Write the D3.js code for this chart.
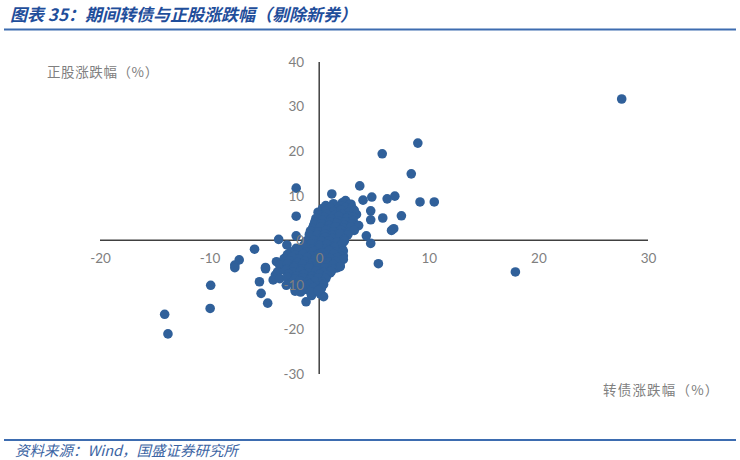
<!DOCTYPE html>
<html>
<head>
<meta charset="utf-8">
<script src="https://cdn.jsdelivr.net/npm/d3@7"></script>
<style>
  body { margin: 0; background: #fff; }
  svg { display: block; }
</style>
</head>
<body>
<div id="chart"></div>
<script>
// tick labels
var xTicks = [-20, -10, 0, 10, 20, 30];
var yTicks = [-30, -20, -10, 0, 10, 20, 30, 40];

// convertible bond change (%) and stock change (%), outliers first
var bondChg = [27.6, 17.9, 9.0, 5.75, 8.4, 3.7, 1.15, -2.1, -2.1, 9.2, 10.5, 6.2, 6.9, 4.8, 4.0,
  2.4, 2.9, 7.5, 5.8, 4.7, 4.7, 6.8, 6.6, 4.3, 4.7, 5.4, 2.2, 1.9, 1.0, 2.1,
  -3.7, -2.95, -2.1, -5.9, -3.9, -4.9, -7.3, -7.7, -7.7, -4.9, -5.45, -5.3, -4.7,
  -9.9, -9.95, -14.1, -13.8, -1.2, 0.4, -2.2, -1.7, -0.7, 0.1, 1.9, 1.6, -4.0, -4.2,
  // dense cluster round the origin
  0.6, 1.3, 2.0, 2.8,
  0.3, 1.0, 1.7, 2.4, 3.0,
  -0.1, 0.6, 1.3, 2.0, 2.7, 3.2,
  0.0, 0.7, 1.4, 2.1, 2.8, 3.4,
  -0.3, 0.4, 1.1, 1.8, 2.5, 3.1,
  -0.4, 0.3, 1.0, 1.7, 2.4, 3.1,
  -0.5, 0.2, 0.9, 1.6, 2.3, 3.0, 3.6,
  -0.6, 0.1, 0.8, 1.5, 2.2, 2.9,
  -0.8, -0.1, 0.6, 1.3, 2.0, 2.7, 3.2,
  -0.9, -0.2, 0.5, 1.2, 1.9, 2.6,
  -0.9, -0.2, 0.5, 1.2, 1.9, 2.3,
  -1.2, -0.5, 0.2, 0.9, 1.6, 2.3,
  -1.4, -0.7, 0.0, 0.7, 1.4, 2.1,
  -2.1, -1.4, -0.7, 0.0, 0.7, 1.4, 2.1,
  -2.6, -1.9, -1.2, -0.5, 0.2, 0.9, 1.6, 2.2,
  -2.9, -2.2, -1.5, -0.8, -0.1, 0.6, 1.3, 2.0,
  -3.2, -2.5, -1.8, -1.1, -0.4, 0.3, 1.0, 1.7, 2.2,
  -2.7, -2.0, -1.3, -0.6, 0.1, 0.8, 1.5,
  -3.6, -2.9, -2.2, -1.5, -0.8, -0.1, 0.6, 1.3, 1.9,
  -3.0, -2.3, -1.6, -0.9, -0.2, 0.5, 1.2,
  -3.8, -3.1, -2.4, -1.7, -1.0, -0.3, 0.4, 1.1,
  -2.8, -2.1, -1.4, -0.7, 0.0, 0.7,
  -3.6, -2.9, -2.2, -1.5, -0.8, -0.1, 0.6,
  -2.5, -1.8, -1.1, -0.4, 0.3,
  -3.0, -2.3, -1.6, -0.9, -0.2, 0.4,
  -1.9, -1.2, -0.5, 0.2,
  -2.2, -1.5, -0.8, -0.1];
var stockChg = [31.7, -7.1, 21.8, 19.4, 14.9, 12.2, 10.4, 11.7, 5.4, 8.6, 8.6, 9.3, 9.9, 9.7, 9.0,
  8.9, 8.1, 5.5, 5.0, 6.6, 4.6, 2.6, 2.2, 1.0, -0.7, -5.25, -3.5, -5.7, -7.3, 8.4,
  0.2, -1.05, 1.0, -2.0, -4.8, -6.4, -4.4, -5.55, -6.15, -6.1, -9.3, -11.9, -14.1,
  -10.1, -15.3, -16.6, -21.0, -13.8, -12.65, -10.9, -11.6, -12.4, -12.0, -5.8, -6.2, -7.8, -8.9,
  7.8, 8.2, 7.7, 8.0,
  7.1, 7.3, 7.0, 7.4, 7.2,
  6.3, 6.6, 6.4, 6.8, 6.3, 6.7,
  5.6, 5.9, 5.6, 5.8, 5.5, 5.8,
  4.9, 5.2, 4.8, 5.3, 4.9, 5.2,
  4.1, 4.4, 4.0, 4.3, 4.1, 4.4,
  3.4, 3.7, 3.3, 3.8, 3.3, 3.6, 3.3,
  2.7, 2.9, 2.6, 3.0, 2.7, 2.9,
  2.1, 1.8, 2.2, 1.9, 2.3, 1.8, 2.2,
  1.3, 1.1, 1.4, 1.1, 1.5, 1.2,
  0.6, 0.3, 0.7, 0.4, 0.8, 0.2,
  -0.2, 0.0, -0.3, -0.1, -0.4, -0.1,
  -1.1, -0.8, -1.2, -0.9, -1.3, -0.8,
  -1.8, -1.6, -2.0, -1.7, -1.9, -1.6, -2.0,
  -2.6, -2.3, -2.7, -2.4, -2.8, -2.3, -2.6, -2.4,
  -3.2, -3.4, -3.1, -3.5, -3.2, -3.4, -3.1, -3.5,
  -4.1, -3.8, -4.2, -3.9, -4.3, -3.8, -4.1, -3.9, -4.3,
  -4.6, -5.0, -4.7, -5.1, -4.6, -4.9, -4.7,
  -5.6, -5.3, -5.7, -5.4, -5.8, -5.3, -5.6, -5.4, -5.9,
  -6.5, -6.1, -6.4, -6.2, -6.5, -6.2, -6.4,
  -7.1, -6.8, -7.2, -6.9, -7.3, -6.9, -7.2, -7.0,
  -7.6, -8.0, -7.7, -8.1, -7.7, -7.9,
  -8.6, -8.3, -8.7, -8.4, -8.8, -8.4, -8.6,
  -9.4, -9.1, -9.5, -9.2, -9.4,
  -10.1, -9.8, -10.2, -9.9, -10.3, -9.9,
  -10.5, -10.9, -10.6, -10.8,
  -11.4, -11.2, -11.6, -11.3];

var points = bondChg.map(function(b, i) { return {bond: b, stock: stockChg[i]}; });

var svgWidth = 740;
var svgHeight = 460;
var svg = d3.select("#chart")
    .append("svg")
    .attr("width", svgWidth)
    .attr("height", svgHeight);

var xScale = d3.scaleLinear().domain([-20, 30]).range([100, 648]);
var yScale = d3.scaleLinear().domain([-30, 40]).range([374, 62]);

// title and rules
var blue = "#1f4e9b";
svg.append("text")
    .attr("x", 10)
    .attr("y", 21)
    .style("font-family", "'Noto Sans CJK SC', sans-serif")
    .style("font-size", "17px")
    .style("font-weight", "bold")
    .style("font-style", "italic")
    .style("fill", blue)
    .text("图表 35：期间转债与正股涨跌幅（剔除新券）");
svg.append("line")
    .attr("x1", 4).attr("x2", 736)
    .attr("y1", 29.5).attr("y2", 29.5)
    .attr("stroke", "#3d6cb0").attr("stroke-width", 2);
svg.append("line")
    .attr("x1", 4).attr("x2", 736)
    .attr("y1", 440).attr("y2", 440)
    .attr("stroke", "#3d6cb0").attr("stroke-width", 2);
svg.append("text")
    .attr("x", 15)
    .attr("y", 456)
    .style("font-family", "'Noto Sans CJK SC', sans-serif")
    .style("font-size", "14.5px")
    .style("font-style", "italic")
    .style("fill", "#3b64a3")
    .text("资料来源：Wind，国盛证券研究所");

// axes crossing at zero
var plot = svg.append("g");
plot.append("line")
    .attr("x1", xScale(-20)).attr("x2", xScale(30))
    .attr("y1", yScale(0)).attr("y2", yScale(0))
    .attr("stroke", "#404040").attr("stroke-width", 1.5);
plot.append("line")
    .attr("x1", xScale(0)).attr("x2", xScale(0))
    .attr("y1", yScale(40)).attr("y2", yScale(-30))
    .attr("stroke", "#404040").attr("stroke-width", 1.5);

plot.selectAll("circle")
    .data(points)
    .enter()
    .append("circle")
    .attr("cx", d => xScale(d.bond))
    .attr("cy", d => yScale(d.stock))
    .attr("r", 4.8)
    .attr("fill", "#30609a");

// tick labels, drawn over the points, plain hyphen for negatives
var fmt = d => String(d);
var xAxis = d3.axisBottom(xScale).tickValues(xTicks).tickFormat(fmt).tickSize(0).tickPadding(13);
var yAxis = d3.axisLeft(yScale).tickValues(yTicks).tickFormat(fmt).tickSize(0).tickPadding(15);
var gx = svg.append("g").attr("transform", `translate(0, ${yScale(0)})`).call(xAxis);
var gy = svg.append("g").attr("transform", `translate(${xScale(0)}, 0)`).call(yAxis);
[gx, gy].forEach(function(g) {
    g.select(".domain").remove();
    g.selectAll("text")
        .style("font-family", "Lato, 'Open Sans', sans-serif")
        .style("font-size", "13.5px")
        .style("fill", "#7f7f7f");
});

// axis titles
svg.append("text")
    .attr("x", 47).attr("y", 77)
    .style("font-family", "'Noto Sans CJK SC', sans-serif")
    .style("font-size", "13.5px")
    .style("letter-spacing", "0.6px")
    .style("fill", "#808080")
    .text("正股涨跌幅（%）");
svg.append("text")
    .attr("x", 603).attr("y", 395)
    .style("font-family", "'Noto Sans CJK SC', sans-serif")
    .style("font-size", "13.5px")
    .style("letter-spacing", "1.2px")
    .style("fill", "#808080")
    .text("转债涨跌幅（%）");
</script>
</body>
</html>
